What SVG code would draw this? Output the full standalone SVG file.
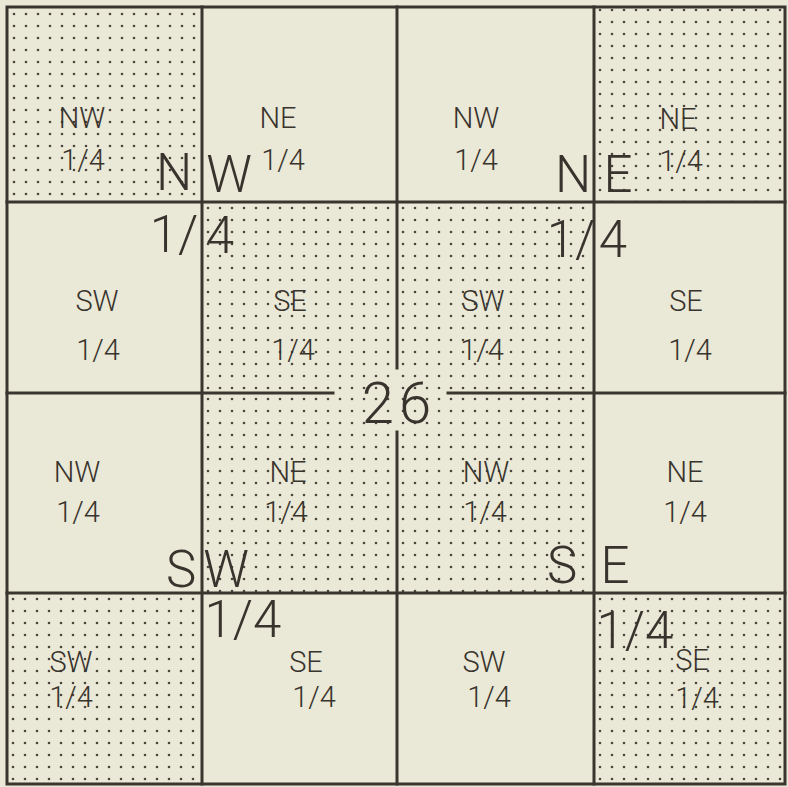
<svg xmlns="http://www.w3.org/2000/svg" width="788" height="787" viewBox="0 0 788 787">
<defs>
<pattern id="dots" width="12" height="12" patternUnits="userSpaceOnUse"><circle cx="6" cy="6" r="1.3" fill="#4a453e"/></pattern>
<style>
.lbl{font-family:Roboto,"Liberation Sans",Arial,sans-serif;font-weight:300;font-size:29px;fill:#38332d;text-anchor:middle}
.big{font-family:Roboto,"Liberation Sans",Arial,sans-serif;font-weight:300;font-size:51px;fill:#38332d;text-anchor:middle}
.num{font-family:Roboto,"Liberation Sans",Arial,sans-serif;font-weight:300;font-size:58px;fill:#38332d;text-anchor:middle;letter-spacing:5px}
.ln{stroke:#3a352f;stroke-width:3;fill:none;stroke-linecap:square}
.dot{fill:url(#dots)}
</style>
</defs>
<rect width="788" height="787" fill="#eae8d6"/>

<g id="cell-r1c1"><rect class="dot" transform="translate(8,8)" width="194" height="194"/><text class="lbl" x="82" y="128">NW</text><text class="lbl" x="83" y="170">1/4</text></g>
<g id="cell-r1c2"><text class="lbl" x="278" y="128">NE</text><text class="lbl" x="283" y="170">1/4</text></g>
<g id="cell-r1c3"><text class="lbl" x="476" y="128">NW</text><text class="lbl" x="476" y="170">1/4</text></g>
<g id="cell-r1c4"><rect class="dot" transform="translate(594,4)" width="192" height="198"/><text class="lbl" x="678" y="129">NE</text><text class="lbl" x="681" y="171">1/4</text></g>

<g id="cell-r2c1"><text class="lbl" x="97" y="311">SW</text><text class="lbl" x="98" y="360">1/4</text></g>
<g id="cell-r2c2"><rect class="dot" transform="translate(202,202)" width="195" height="191"/><text class="lbl" x="290" y="311">SE</text><text class="lbl" x="293" y="360">1/4</text></g>
<g id="cell-r2c3"><rect class="dot" transform="translate(397,202)" width="197" height="191"/><text class="lbl" x="483" y="311">SW</text><text class="lbl" x="482" y="360">1/4</text></g>
<g id="cell-r2c4"><text class="lbl" x="686" y="311">SE</text><text class="lbl" x="690" y="360">1/4</text></g>

<g id="cell-r3c1"><text class="lbl" x="77" y="482">NW</text><text class="lbl" x="78" y="522">1/4</text></g>
<g id="cell-r3c2"><rect class="dot" transform="translate(202,393)" width="195" height="200"/><text class="lbl" x="288" y="482">NE</text><text class="lbl" x="286" y="522">1/4</text></g>
<g id="cell-r3c3"><rect class="dot" transform="translate(397,393)" width="197" height="200"/><text class="lbl" x="486" y="482">NW</text><text class="lbl" x="485" y="522">1/4</text></g>
<g id="cell-r3c4"><text class="lbl" x="685" y="482">NE</text><text class="lbl" x="685" y="522">1/4</text></g>

<g id="cell-r4c1"><rect class="dot" transform="translate(7,593)" width="195" height="191"/><text class="lbl" x="71" y="672">SW</text><text class="lbl" x="71" y="707">1/4</text></g>
<g id="cell-r4c2"><text class="lbl" x="306" y="672">SE</text><text class="lbl" x="314" y="707">1/4</text></g>
<g id="cell-r4c3"><text class="lbl" x="484" y="672">SW</text><text class="lbl" x="489" y="707">1/4</text></g>
<g id="cell-r4c4"><rect class="dot" transform="translate(594,593)" width="192" height="191"/><text class="lbl" x="692" y="670">SE</text><text class="lbl" x="697" y="708">1/4</text></g>

<g id="connectors">
<rect class="ln" x="7" y="7" width="778" height="777"/>
<line class="ln" x1="202" y1="7" x2="202" y2="784"/>
<line class="ln" x1="594" y1="7" x2="594" y2="784"/>
<line class="ln" x1="7" y1="202" x2="785" y2="202"/>
<line class="ln" x1="7" y1="593" x2="785" y2="593"/>
<line class="ln" x1="397" y1="7" x2="397" y2="368"/>
<line class="ln" x1="397" y1="432" x2="397" y2="784"/>
<line class="ln" x1="7" y1="393" x2="333" y2="393"/>
<line class="ln" x1="448" y1="393" x2="785" y2="393"/>
</g>

<g id="quarter-nw"><text class="big" x="174" y="190">N</text><text class="big" x="229" y="192">W</text><text class="big" x="174" y="252">1/</text><text class="big" x="220" y="253">4</text></g>
<g id="quarter-ne"><text class="big" x="573" y="192">N</text><text class="big" x="618" y="192">E</text><text class="big" x="571" y="257">1/</text><text class="big" x="613" y="257">4</text></g>
<g id="quarter-sw"><text class="big" x="181" y="587">S</text><text class="big" x="226" y="587">W</text><text class="big" x="243" y="637">1/4</text></g>
<g id="quarter-se"><text class="big" x="562" y="583">S</text><text class="big" x="615" y="583">E</text><text class="big" x="635" y="648">1/4</text></g>
<g id="section"><text class="num" x="399" y="423">26</text></g>
</svg>
